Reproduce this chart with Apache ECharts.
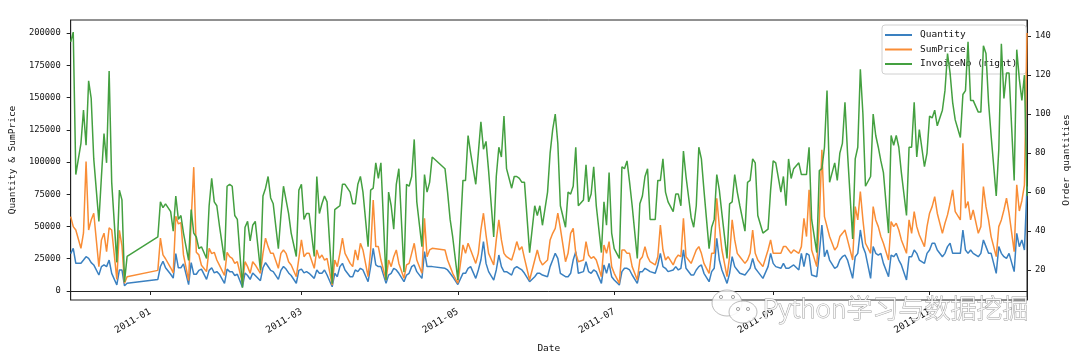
<!DOCTYPE html>
<html><head><meta charset="utf-8">
<script src="https://cdn.jsdelivr.net/npm/echarts@6/dist/echarts.min.js"></script>
<style>html,body{margin:0;padding:0;background:#fff}#c{width:1080px;height:361px}</style>
</head><body><div id="c"></div>
<script>
const dates = [
"2010-12-01","2010-12-02","2010-12-03","2010-12-05","2010-12-06","2010-12-07","2010-12-08","2010-12-09","2010-12-10","2010-12-12","2010-12-13","2010-12-14","2010-12-15","2010-12-16","2010-12-17","2010-12-19","2010-12-20","2010-12-21","2010-12-22","2010-12-23",
"2011-01-04","2011-01-05","2011-01-06","2011-01-07","2011-01-09","2011-01-10","2011-01-11","2011-01-12","2011-01-13","2011-01-14","2011-01-16","2011-01-17","2011-01-18","2011-01-19","2011-01-20","2011-01-21","2011-01-23","2011-01-24","2011-01-25","2011-01-26","2011-01-27","2011-01-28","2011-01-30","2011-01-31",
"2011-02-01","2011-02-02","2011-02-03","2011-02-04","2011-02-06","2011-02-07","2011-02-08","2011-02-09","2011-02-10","2011-02-11","2011-02-13","2011-02-14","2011-02-15","2011-02-16","2011-02-17","2011-02-18","2011-02-20","2011-02-21","2011-02-22","2011-02-23","2011-02-24","2011-02-25","2011-02-27","2011-02-28",
"2011-03-01","2011-03-02","2011-03-03","2011-03-04","2011-03-06","2011-03-07","2011-03-08","2011-03-09","2011-03-10","2011-03-11","2011-03-13","2011-03-14","2011-03-15","2011-03-16","2011-03-17","2011-03-18","2011-03-20","2011-03-21","2011-03-22","2011-03-23","2011-03-24","2011-03-25","2011-03-27","2011-03-28","2011-03-29","2011-03-30","2011-03-31",
"2011-04-01","2011-04-03","2011-04-04","2011-04-05","2011-04-06","2011-04-07","2011-04-08","2011-04-10","2011-04-11","2011-04-12","2011-04-13","2011-04-14","2011-04-15","2011-04-17","2011-04-18","2011-04-19","2011-04-20","2011-04-21","2011-04-26","2011-04-27","2011-04-28","2011-04-29",
"2011-05-01","2011-05-03","2011-05-04","2011-05-05","2011-05-06","2011-05-08","2011-05-09","2011-05-10","2011-05-11","2011-05-12","2011-05-13","2011-05-15","2011-05-16","2011-05-17","2011-05-18","2011-05-19","2011-05-20","2011-05-22","2011-05-23","2011-05-24","2011-05-25","2011-05-26","2011-05-27","2011-05-29","2011-05-31",
"2011-06-01","2011-06-02","2011-06-03","2011-06-05","2011-06-06","2011-06-07","2011-06-08","2011-06-09","2011-06-10","2011-06-12","2011-06-13","2011-06-14","2011-06-15","2011-06-16","2011-06-17","2011-06-19","2011-06-20","2011-06-21","2011-06-22","2011-06-23","2011-06-24","2011-06-26","2011-06-27","2011-06-28","2011-06-29","2011-06-30",
"2011-07-01","2011-07-03","2011-07-04","2011-07-05","2011-07-06","2011-07-07","2011-07-08","2011-07-10","2011-07-11","2011-07-12","2011-07-13","2011-07-14","2011-07-15","2011-07-17","2011-07-18","2011-07-19","2011-07-20","2011-07-21","2011-07-22","2011-07-24","2011-07-25","2011-07-26","2011-07-27","2011-07-28","2011-07-29","2011-07-31",
"2011-08-01","2011-08-02","2011-08-03","2011-08-04","2011-08-05","2011-08-07","2011-08-08","2011-08-09","2011-08-10","2011-08-11","2011-08-12","2011-08-14","2011-08-15","2011-08-16","2011-08-17","2011-08-18","2011-08-19","2011-08-21","2011-08-22","2011-08-23","2011-08-24","2011-08-25","2011-08-26","2011-08-28","2011-08-30","2011-08-31",
"2011-09-01","2011-09-02","2011-09-04","2011-09-05","2011-09-06","2011-09-07","2011-09-08","2011-09-09","2011-09-11","2011-09-12","2011-09-13","2011-09-14","2011-09-15","2011-09-16","2011-09-18","2011-09-19","2011-09-20","2011-09-21","2011-09-22","2011-09-23","2011-09-25","2011-09-26","2011-09-27","2011-09-28","2011-09-29","2011-09-30",
"2011-10-02","2011-10-03","2011-10-04","2011-10-05","2011-10-06","2011-10-07","2011-10-09","2011-10-10","2011-10-11","2011-10-12","2011-10-13","2011-10-14","2011-10-16","2011-10-17","2011-10-18","2011-10-19","2011-10-20","2011-10-21","2011-10-23","2011-10-24","2011-10-25","2011-10-26","2011-10-27","2011-10-28","2011-10-30","2011-10-31",
"2011-11-01","2011-11-02","2011-11-03","2011-11-04","2011-11-06","2011-11-07","2011-11-08","2011-11-09","2011-11-10","2011-11-11","2011-11-13","2011-11-14","2011-11-15","2011-11-16","2011-11-17","2011-11-18","2011-11-20","2011-11-21","2011-11-22","2011-11-23","2011-11-24","2011-11-25","2011-11-27","2011-11-28","2011-11-29","2011-11-30",
"2011-12-01","2011-12-02","2011-12-04","2011-12-05","2011-12-06","2011-12-07","2011-12-08","2011-12-09"
];
const quantity = [
29000,33000,21500,21500,24000,26600,25300,22000,20200,12400,18900,20200,18900,24000,13700,4700,16300,16300,4000,6000,
9000,19000,23000,18000,13000,10000,29000,18000,18000,21000,5000,22000,13000,13000,16000,17000,9000,16000,18000,14000,15000,13000,6000,17000,
15000,15000,12000,13000,3000,14000,12000,9000,14000,12000,8000,18000,22000,19000,16000,15000,9000,16000,19000,17000,14000,12000,6000,16000,
17000,14000,15000,13700,9800,16300,13700,13700,16300,12400,3300,13700,11100,18900,21400,16300,11100,11100,16300,15000,17600,16300,7200,18900,33100,20200,18900,
18900,5900,12400,13700,17600,16300,13700,7200,12400,13700,18900,20200,15000,9800,30500,18900,18900,18900,17600,16300,13700,11100,
5000,13700,13700,17600,18900,9800,16300,24000,38300,21400,15000,8500,16300,27900,18900,15000,15000,12400,17600,18900,17600,16300,13700,7200,11100,
13700,13700,12400,11100,18900,24000,29200,25300,13700,11100,11100,13700,24000,30500,13700,15000,22700,15000,13700,16300,15000,5900,20200,13700,21400,11100,
8500,4600,15000,17600,17600,16300,12400,5900,15000,15000,17600,16300,15000,13700,20200,29200,18900,17600,15000,16300,18900,16300,17600,31800,17600,12400,
12400,16300,18900,20200,13700,7200,15000,17600,40900,24000,16300,5900,13700,26600,18900,16300,13700,12400,15000,17600,25300,17600,15000,9800,18900,29200,
21400,18900,17600,21400,17600,17600,18900,20200,16300,29200,18900,29200,27900,12400,11100,29200,51200,26600,31800,24000,17600,18900,24000,26600,27900,24000,
9800,26600,29200,47300,34400,29200,9800,34400,29200,27900,29200,21400,11100,27900,26600,29200,24000,20200,8500,26600,26600,31800,29200,24000,21400,29200,
31800,37000,37000,31800,26600,29200,34400,37000,29200,29200,29200,47300,31800,29200,31800,29200,26600,29200,39600,34400,29200,29200,13700,34400,29200,26600,
25300,29200,15000,44700,34400,39600,31800,81000
];
const sumPrice = [
57700,49900,47300,33100,45000,100300,47300,55000,60300,18900,39600,44800,30500,49000,47300,9000,47000,35000,6000,11000,
16000,41000,28000,25000,18000,14000,58000,52000,53000,28000,8000,55000,96000,30000,28000,20000,15000,33000,29000,30000,24000,20000,12000,30000,
26600,25300,21400,22700,5900,22700,18900,13700,22700,20200,13700,29200,40900,34400,29200,29200,17600,29200,31800,29200,22700,20200,11100,25300,
39600,26600,29200,29200,17600,31800,25300,27900,24000,25300,4600,24000,18900,29200,40900,29200,21400,18900,31800,24000,37000,31800,11100,31800,70600,34400,34400,
24000,8500,24000,18900,26600,31800,21400,9800,20200,21400,29200,37000,24000,13700,56400,26600,31800,33100,31800,24000,18900,13700,
6000,35700,29200,37000,31800,21400,29200,47300,60300,43400,29200,20200,39600,55100,39600,29200,26600,24000,30500,38300,31800,34400,25300,8500,24000,
31800,24000,20200,24000,39600,44700,48600,60300,48600,22700,29200,44700,48600,29200,22700,24000,38300,27900,25300,26600,24000,11100,35700,29200,38300,18900,
13700,5900,31800,31800,29200,29200,18900,8500,24000,26600,34400,26600,22700,20200,26600,51200,31800,24000,26600,20200,25300,27900,26600,56400,26600,21400,
26600,31800,34400,29200,21400,13700,29200,29200,71900,49900,31800,11100,26600,55100,39600,29200,26600,21400,24000,29200,47300,29200,24000,18900,31800,39600,
29200,29200,29200,34400,34400,31800,29200,31800,29200,34400,56400,42200,78400,31800,18900,55100,109400,57700,49900,42200,31800,34400,42200,44700,47300,39600,
24000,65400,55100,77100,55100,37000,29200,65400,55100,49900,42200,37000,24000,53800,49900,52500,47300,39600,29200,55100,44700,61500,49900,43400,34400,49900,
60300,65400,73200,60300,44700,52500,59000,68000,78400,61500,55100,114600,64100,69300,55100,62800,44700,49900,80900,65400,55100,42200,26600,49900,55100,62800,
71900,60300,30500,82300,62000,70000,82000,200000
];
const invoiceNo = [
137,142,69,85,102,84,117,108,77,45,68,90,75,122,65,24,61,56,14,27,
37,55,52,54,50,40,58,46,48,39,25,51,39,37,31,32,26,53,67,55,53,43,25,63,
64,63,48,46,11,42,45,35,43,45,20,58,62,68,57,54,31,48,63,56,49,39,27,61,
64,46,49,49,27,68,49,54,58,55,13,51,52,53,64,64,60,54,54,64,68,60,32,61,62,75,67,
75,15,60,53,41,64,72,19,64,63,68,87,55,32,69,60,65,78,72,60,46,37,
15,66,66,89,80,64,80,96,82,86,71,37,68,83,78,99,72,62,68,68,67,65,65,29,53,
48,53,43,60,80,92,100,85,53,42,60,59,63,83,53,56,74,55,59,73,53,29,55,43,70,39,
31,26,73,72,76,65,53,26,54,58,68,72,46,46,66,66,77,60,55,50,59,59,53,81,68,47,
42,53,83,77,61,31,42,46,69,61,49,26,54,55,69,60,53,40,65,66,77,75,48,39,41,61,
76,75,60,68,53,77,67,72,75,69,69,69,83,46,29,71,72,83,112,65,75,66,80,85,106,80,
36,77,83,123,100,63,68,100,89,83,76,70,39,89,84,89,83,70,48,83,83,106,78,92,73,80,
99,98,102,94,102,112,131,121,106,97,88,110,112,137,107,107,101,101,135,131,106,89,58,82,136,108,
121,121,66,133,118,107,120,58
];
const leftTicks = [0,25000,50000,75000,100000,125000,150000,175000,200000];
const rightTicks = [20,40,60,80,100,120,140];
const xTickDates = ["2011-01-01","2011-03-01","2011-05-01","2011-07-01","2011-09-01","2011-11-01"];
const xTickLabels = ["2011-01","2011-03","2011-05","2011-07","2011-09","2011-11"];

const toTs = s => { const p = s.split('-').map(Number); return Date.UTC(p[0], p[1]-1, p[2]); };
const ts = dates.map(toTs);
const pair = arr => ts.map((t, i) => [t, arr[i]]);
const xTickValues = xTickDates.map(toTs);
const FONT = 'DejaVu Sans Mono';
const C_BLUE = '#3a80c0', C_ORANGE = '#f98d36', C_GREEN = '#44a040';

const chart = echarts.init(document.getElementById('c'), null, {renderer: 'canvas'});
chart.setOption({
  animation: false,
  backgroundColor: '#fff',
  grid: {left: 66, right: 53, top: 20, bottom: 61, show: true, borderColor: '#222', borderWidth: 1},
  legend: {
    orient: 'vertical', left: 882, top: 25, z: 1,
    padding: [5, 9, 5, 3], itemGap: 4.5, itemWidth: 27, itemHeight: 2, icon: 'rect',
    backgroundColor: 'rgba(255,255,255,0.85)', borderColor: '#d0d0d0', borderWidth: 1, borderRadius: 3,
    textStyle: {fontFamily: FONT, fontSize: 9.5, color: '#111', padding: [0, 0, 0, 3]},
    data: ['Quantity', 'SumPrice', 'InvoiceNo (right)']
  },
  xAxis: {
    type: 'value', min: toTs('2010-12-01'), max: toTs('2011-12-09'),
    name: 'Date', nameLocation: 'middle', nameGap: 44,
    nameTextStyle: {fontFamily: FONT, fontSize: 9.5, color: '#111'},
    axisLine: {show: true, lineStyle: {color: '#222', width: 1}},
    axisTick: {show: true, length: 4, lineStyle: {color: '#222'}, customValues: xTickValues},
    axisLabel: {
      rotate: 30, margin: 11, fontFamily: FONT, fontSize: 9.5, color: '#111',
      customValues: xTickValues,
      formatter: v => { const i = xTickValues.indexOf(v); return i >= 0 ? xTickLabels[i] : ''; }
    },
    splitLine: {show: false}
  },
  yAxis: [{
    type: 'value', position: 'left', min: -6977, max: 210078,
    name: 'Quantity & SumPrice', nameLocation: 'middle', nameGap: 49, nameRotate: 90,
    nameTextStyle: {fontFamily: FONT, fontSize: 9.5, color: '#111'},
    axisLine: {show: true, lineStyle: {color: '#222', width: 1}},
    axisTick: {show: true, length: 4, lineStyle: {color: '#222'}, customValues: leftTicks},
    axisLabel: {margin: 10, fontFamily: FONT, fontSize: 8.8, color: '#111', customValues: leftTicks,
                formatter: v => String(v)},
    splitLine: {show: false}
  }, {
    type: 'value', position: 'right', min: 4.7, max: 148.2,
    name: 'Order quantities', nameLocation: 'middle', nameGap: 31, nameRotate: 90,
    nameTextStyle: {fontFamily: FONT, fontSize: 9.5, color: '#111'},
    axisLine: {show: true, lineStyle: {color: '#222', width: 1}},
    axisTick: {show: true, length: 4, lineStyle: {color: '#222'}, customValues: rightTicks},
    axisLabel: {margin: 8, fontFamily: FONT, fontSize: 8.8, color: '#111', customValues: rightTicks,
                formatter: v => String(v)},
    splitLine: {show: false}
  }],
  series: [
    {name: 'Quantity', type: 'line', yAxisIndex: 0, symbol: 'none', data: pair(quantity), z: 3,
     lineStyle: {color: C_BLUE, width: 1.5}, itemStyle: {color: C_BLUE}},
    {name: 'SumPrice', type: 'line', yAxisIndex: 0, symbol: 'none', data: pair(sumPrice), z: 4,
     lineStyle: {color: C_ORANGE, width: 1.5}, itemStyle: {color: C_ORANGE}},
    {name: 'InvoiceNo (right)', type: 'line', yAxisIndex: 1, symbol: 'none', data: pair(invoiceNo), z: 5,
     lineStyle: {color: C_GREEN, width: 1.5}, itemStyle: {color: C_GREEN}}
  ],
  graphic: [
    {type: 'ellipse', z: 100, shape: {cx: 727, cy: 303, rx: 15, ry: 13},
     style: {fill: 'rgba(255,255,255,0.8)', stroke: 'rgba(160,160,160,0.7)', lineWidth: 1}},
    {type: 'ellipse', z: 101, shape: {cx: 743, cy: 312, rx: 14, ry: 11},
     style: {fill: 'rgba(255,255,255,0.85)', stroke: 'rgba(160,160,160,0.7)', lineWidth: 1}},
    {type: 'circle', z: 102, shape: {cx: 721, cy: 297, r: 1.6}, style: {fill: 'none', stroke: 'rgba(140,140,140,0.8)', lineWidth: 1}},
    {type: 'circle', z: 102, shape: {cx: 733, cy: 297, r: 1.6}, style: {fill: 'none', stroke: 'rgba(140,140,140,0.8)', lineWidth: 1}},
    {type: 'circle', z: 102, shape: {cx: 738, cy: 309, r: 1.6}, style: {fill: 'none', stroke: 'rgba(140,140,140,0.8)', lineWidth: 1}},
    {type: 'circle', z: 102, shape: {cx: 748, cy: 309, r: 1.6}, style: {fill: 'none', stroke: 'rgba(140,140,140,0.8)', lineWidth: 1}},
    {type: 'text', z: 103, left: 762, top: 295,
     style: {text: 'Python学习与数据挖掘', fontFamily: 'Noto Sans CJK SC', fontSize: 26, fontWeight: 300,
             fill: 'rgba(255,255,255,0.92)', stroke: 'rgba(130,130,130,0.75)', lineWidth: 1}}
  ]
});
</script></body></html>
